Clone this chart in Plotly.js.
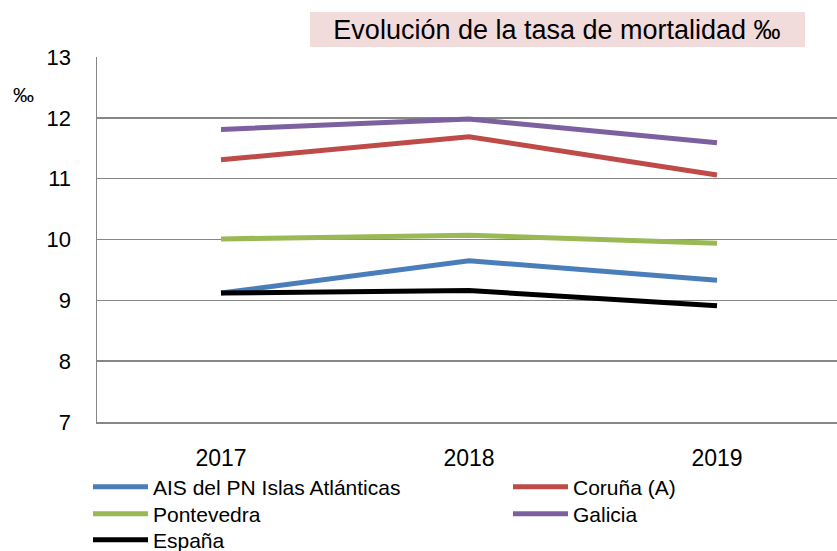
<!DOCTYPE html>
<html>
<head>
<meta charset="utf-8">
<script src="https://cdn.plot.ly/plotly-3.0.1.min.js"></script>
<style>
  html, body { margin: 0; padding: 0; overflow: hidden; background: #fff; }
</style>
</head>
<body>
<div id="chart"></div>
<script>
// tasa de mortalidad (por mil)
const years = ['2017', '2018', '2019']
const ais = [9.12, 9.65, 9.33]
const coruna = [11.31, 11.69, 11.06]
const pontevedra = [10.01, 10.07, 9.94]
const galicia = [11.81, 11.98, 11.59]
const espana = [9.12, 9.16, 8.91]

const W = 845, H = 551
const FONT = '"Liberation Sans", Arial, sans-serif'

function serie(name, y, color, legend) {
  return {
    x: years, y: y, name: name,
    type: 'scatter', mode: 'lines',
    line: { color: color, width: 5 },
    legend: legend
  }
}

const data = [
  serie('AIS del PN Islas Atlánticas', ais, '#4A7EBB', 'legend'),
  serie('Coruña (A)', coruna, '#BE4B48', 'legend2'),
  serie('Pontevedra', pontevedra, '#98B954', 'legend3'),
  serie('Galicia', galicia, '#7D60A0', 'legend4'),
  serie('España', espana, '#000000', 'legend5')
]

// one small legend per entry so the rows sit as in the reference
function leyenda(xpx, ypx) {
  return {
    orientation: 'v',
    xref: 'container', yref: 'container',
    xanchor: 'left', yanchor: 'middle',
    x: xpx / W, y: 1 - ypx / H,
    font: { family: FONT, size: 21, color: '#000' },
    bgcolor: 'rgba(0,0,0,0)',
    itemwidth: 55
  }
}

const layout = {
  width: W, height: H,
  margin: { l: 97, r: 4, t: 57, b: 129, autoexpand: false },
  paper_bgcolor: '#fff', plot_bgcolor: '#fff',
  font: { family: FONT, color: '#000' },
  title: {
    text: 'Evolución de la tasa de mortalidad ‰',
    font: { family: FONT, size: 27, color: '#000' },
    xref: 'container', yref: 'container',
    x: 557 / W, y: 1 - 30 / H, xanchor: 'center', yanchor: 'middle'
  },
  xaxis: {
    type: 'category',
    range: [-0.5, 2.5],
    showgrid: false,
    showline: true, linecolor: '#868686', linewidth: 1.5,
    ticks: '',
    tickangle: 0,
    ticklabelstandoff: 15,
    tickfont: { family: FONT, size: 23, color: '#000' }
  },
  yaxis: {
    range: [7, 13],
    dtick: 1,
    showgrid: true, gridcolor: '#868686', gridwidth: 1.5,
    showline: true, linecolor: '#868686', linewidth: 1.5,
    zeroline: false,
    ticks: '',
    ticklabelstandoff: 20,
    tickfont: { family: FONT, size: 22, color: '#000' }
  },
  showlegend: true,
  legend: leyenda(88, 487),
  legend2: leyenda(508, 487),
  legend3: leyenda(88, 514),
  legend4: leyenda(508, 514),
  legend5: leyenda(88, 540),
  shapes: [{
    type: 'rect', xref: 'paper', yref: 'paper', layer: 'below',
    x0: (310 - 97) / 744, x1: (805 - 97) / 744,
    y0: (422 - 47) / 365, y1: (422 - 12) / 365,
    fillcolor: '#F2DCDB', line: { width: 0 }
  }],
  annotations: [{
    text: '‰', showarrow: false,
    xref: 'paper', yref: 'paper',
    x: (23 - 97) / 744, y: (422 - 94) / 365,
    xanchor: 'center', yanchor: 'middle',
    font: { family: FONT, size: 21, color: '#000' }
  }]
}

Plotly.newPlot('chart', data, layout, { displayModeBar: false, staticPlot: true })
</script>
</body>
</html>
